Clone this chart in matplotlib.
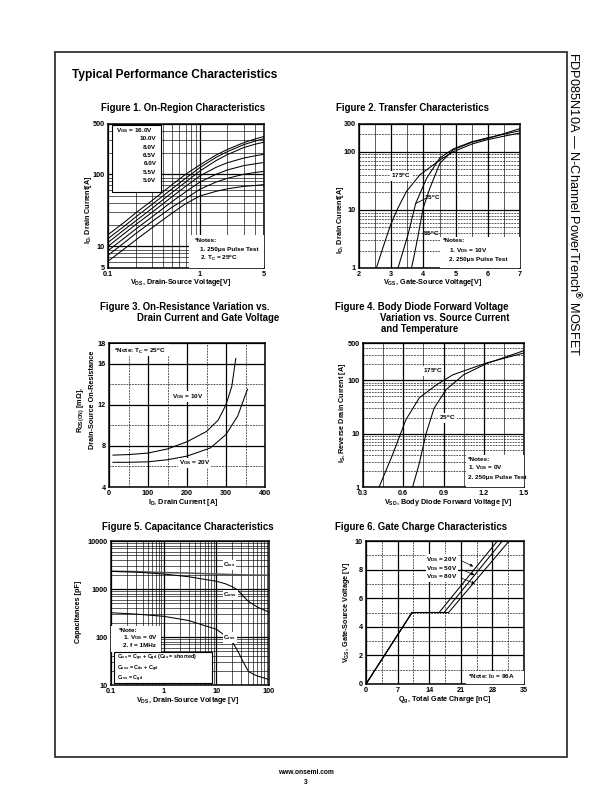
import matplotlib
matplotlib.use("Agg")
import matplotlib.pyplot as plt
from matplotlib.patches import Rectangle
from matplotlib.ticker import LogLocator, NullFormatter, FixedLocator

plt.rcParams['font.family'] = ['Liberation Sans', 'DejaVu Sans']
plt.rcParams['font.weight'] = 'bold'
plt.rcParams['mathtext.fontset'] = 'custom'
plt.rcParams['mathtext.rm'] = 'Liberation Sans:bold'
plt.rcParams['mathtext.it'] = 'Liberation Sans:bold'
plt.rcParams['mathtext.bf'] = 'Liberation Sans:bold'
plt.rcParams['axes.unicode_minus'] = False

# ---- Figure 1: on-region characteristics (VDS vs ID per VGS)
vds_f1 = [0.1, 0.15, 0.2, 0.3, 0.5, 0.7, 1.0, 1.5, 2.0, 3.0, 4.0, 5.0]
vgs_labels_f1 = ["16.0V", "10.0V", "8.0V", "6.5V", "6.0V", "5.5V", "5.0V"]
id_16v = [14.5, 21.5, 29, 43, 72, 100, 135, 185, 222, 275, 310, 335]
id_10v = [12.8, 19, 25.5, 38, 63, 88, 124, 172, 207, 258, 290, 312]
id_8v = [11.3, 17, 22.5, 33.5, 56, 78, 111, 155, 188, 235, 262, 280]
id_6v5 = [10, 15, 20, 29.5, 49, 68, 95, 125, 145, 168, 181, 190]
id_6v = [8.7, 13, 17.3, 25.5, 42, 57, 78, 100, 115, 132, 140, 146]
id_5v5 = [7.5, 11.2, 15, 22, 35, 46, 62, 78, 88, 100, 106, 110]
id_5v = [6.2, 9.2, 12.2, 18, 29, 39, 50, 58, 63, 68, 70, 72]

# ---- Figure 2: transfer characteristics
vgs_175 = [2.54, 2.75, 2.98, 3.2, 3.47, 3.89, 4.51, 4.93, 5.5, 5.96, 6.5, 7.0]
id_175 = [1, 2.3, 5.5, 10.5, 20.6, 40, 72, 100, 135, 160, 185, 210]
vgs_25 = [3.21, 3.35, 3.52, 3.76, 4.10, 4.51, 4.93, 5.5, 5.96, 6.5, 7.0]
id_25 = [1, 1.8, 3.7, 12.9, 35, 78, 112, 148, 172, 200, 230]
vgs_m55 = [3.63, 3.72, 3.84, 3.99, 4.20, 4.51, 4.93, 5.5, 5.96, 6.5, 7.0]
id_m55 = [1, 1.7, 3.7, 10.6, 23.5, 63, 108, 145, 167, 205, 250]

# ---- Figure 3: on-resistance vs drain current
id_f3_10v = [10, 50, 100, 150, 200, 250, 280, 300, 315, 325]
rds_10v = [7.1, 7.15, 7.3, 7.7, 8.4, 9.4, 10.5, 12.0, 13.8, 16.5]
id_f3_20v = [10, 50, 100, 150, 200, 260, 300, 330, 355]
rds_20v = [6.4, 6.4, 6.45, 6.65, 7.0, 7.8, 9.1, 10.9, 13.5]

# ---- Figure 4: body diode forward voltage
vsd_175 = [0.42, 0.47, 0.52, 0.62, 0.72, 0.85, 0.97, 1.22, 1.5]
is_175 = [1, 2.0, 4.0, 18.3, 47, 83, 127, 211, 325]
vsd_25 = [0.67, 0.72, 0.77, 0.83, 0.92, 1.05, 1.22, 1.5]
is_25 = [1, 2.8, 10, 30, 67, 127, 205, 360]

# ---- Figure 5: capacitance
vds_f5 = [0.1, 0.3, 1, 3, 10, 15, 20, 25, 30, 40, 60, 100]
c_iss = [2350, 2300, 2200, 2150, 2050, 2020, 2000, 1990, 1980, 1960, 1950, 1940]
c_oss = [2330, 2250, 2050, 1800, 1450, 1280, 1120, 960, 780, 560, 420, 330]
vds_rss = [0.1, 0.3, 1, 3, 10, 16, 21, 26, 32, 41, 58, 100]
c_rss = [320, 300, 270, 220, 145, 100, 74, 49, 31, 19, 15.6, 13]

# ---- Figure 6: gate charge
qg_20v = [0, 10.2, 16.2, 29.1]
qg_50v = [0, 10.2, 17.3, 30.2]
qg_80v = [0, 10.2, 18.3, 31.7]
vgs_f6 = [0, 5, 5, 10]

W, H = 612, 792
fig = plt.figure(figsize=(W / 100, H / 100), dpi=100)


def place(l, t, r, b):
    return fig.add_axes([l / W, 1 - b / H, (r - l) / W, (b - t) / H])


def ftext(x, y, s, **kw):
    kw.setdefault('fontsize', 5.2)
    kw.setdefault('ha', 'center')
    kw.setdefault('va', 'center')
    fig.text(x / W, 1 - y / H, s, **kw)


def base(ax):
    for sp in ax.spines.values():
        sp.set_linewidth(1.1)
    ax.tick_params(which='both', length=0, labelsize=5.2, pad=2.5)
    ax.set_axisbelow(True)


def log_grid(ax, axis):
    a = ax.xaxis if axis == 'x' else ax.yaxis
    a.set_minor_locator(LogLocator(base=10, subs=range(2, 10)))
    a.set_minor_formatter(NullFormatter())


def white(ax, x, y, w, h, edge='none', tr=None):
    ax.add_patch(Rectangle((x, y), w, h, transform=tr or ax.transAxes,
                           facecolor='white', edgecolor=edge, lw=0.8, zorder=3))


LW = 0.75

# page frame, header and footer
fig.add_artist(Rectangle((55 / W, 1 - 757 / H), 512 / W, 705 / H,
                         transform=fig.transFigure, fill=False, lw=1.2, color='#222222'))
ftext(72, 75, "Typical Performance Characteristics", fontsize=8.6, ha='left')
ftext(574, 52, r"FDP085N10A — N-Channel PowerTrench$^{\circledR}$ MOSFET",
      fontsize=9.2, fontweight='normal', rotation=-90, ha='center', va='top')
ftext(306, 773, "www.onsemi.com", fontsize=4.8)
ftext(306, 782, "3", fontsize=4.8)

TS = 6.9

# ================= Figure 1
ax = place(108, 124, 264, 268)
base(ax)
ax.set_xscale('log'); ax.set_yscale('log')
ax.set_xlim(0.1, 5); ax.set_ylim(5, 500)
log_grid(ax, 'x'); log_grid(ax, 'y')
ax.grid(which='major', color='k', lw=0.9)
ax.grid(which='minor', color='k', lw=0.45)
ax.xaxis.set_major_locator(FixedLocator([0.1, 1, 5]))
ax.yaxis.set_major_locator(FixedLocator([5, 10, 100, 500]))
ax.set_xticklabels(["0.1", "1", "5"]); ax.set_yticklabels(["5", "10", "100", "500"])
for ys in [id_16v, id_10v, id_8v, id_6v5, id_6v, id_5v5, id_5v]:
    ax.plot(vds_f1, ys, color='k', lw=LW, zorder=2)
white(ax, 0.024, 0.53, 0.316, 0.463, edge='k')
ax.text(0.05, 0.954, r"V$_{\rm GS}$ = " + vgs_labels_f1[0], transform=ax.transAxes,
        fontsize=4.6, va='center', zorder=4)
for i, lab in enumerate(vgs_labels_f1[1:]):
    ax.text(0.31, 0.896 - i * 0.0575, lab, transform=ax.transAxes, fontsize=4.6,
            ha='right', va='center', zorder=4)
white(ax, 0.52, 0.0, 0.48, 0.23)
ax.text(0.56, 0.19, "*Notes:", transform=ax.transAxes, fontsize=4.6, va='center', zorder=4)
ax.text(0.59, 0.125, "1. 250μs Pulse Test", transform=ax.transAxes, fontsize=4.6, va='center', zorder=4)
ax.text(0.59, 0.065, r"2. T$_{\rm C}$ = 25$^{\rm o}$C", transform=ax.transAxes, fontsize=4.6,
        va='center', zorder=4)
ftext(183, 108, "Figure 1. On-Region Characteristics", fontsize=TS)
ftext(181, 283, r"V$_{\rm DS}$, Drain-Source Voltage[V]")
ftext(89, 210, r"I$_{\rm D}$, Drain Current[A]", rotation=90)

# ================= Figure 2
ax = place(359, 124, 520, 268)
base(ax)
ax.set_yscale('log')
ax.set_xlim(2, 7); ax.set_ylim(1, 300)
log_grid(ax, 'y')
ax.set_xticks([2, 3, 4, 5, 6, 7])
ax.set_xticks([2.5, 3.5, 4.5, 5.5, 6.5], minor=True)
ax.yaxis.set_major_locator(FixedLocator([1, 10, 100, 300]))
ax.set_yticklabels(["1", "10", "100", "300"])
ax.grid(which='major', color='k', lw=0.9)
ax.grid(which='minor', axis='y', color='k', lw=0.45, ls=(0, (3, 1.5)))
ax.grid(which='minor', axis='x', color='k', lw=0.45)
for xs, ys in [(vgs_175, id_175), (vgs_25, id_25), (vgs_m55, id_m55)]:
    ax.plot(xs, ys, color='k', lw=LW, zorder=2)
bb = dict(facecolor='white', edgecolor='none', pad=0.6)
ax.text(3.3, 38, r"175$^{\rm o}$C", fontsize=4.6, ha='center', va='center', bbox=bb, zorder=4)
ax.plot([3.78, 4.05], [13, 15.5], color='k', lw=0.6, zorder=4)
ax.text(4.27, 15.8, r"25$^{\rm o}$C", fontsize=4.6, ha='center', va='center', zorder=4)
ax.text(4.2, 3.9, r"-55$^{\rm o}$C", fontsize=4.6, ha='center', va='center', zorder=4)
white(ax, 4.5, 1, 2.5, 2.43, tr=ax.transData)
ax.text(4.62, 2.93, "*Notes:", fontsize=4.6, va='center', zorder=4)
ax.text(4.78, 2.0, r"1. V$_{\rm DS}$ = 10V", fontsize=4.6, va='center', zorder=4)
ax.text(4.78, 1.4, "2. 250μs Pulse Test", fontsize=4.6, va='center', zorder=4)
ftext(336, 108, "Figure 2. Transfer Characteristics", fontsize=TS, ha='left')
ftext(433, 283, r"V$_{\rm GS}$, Gate-Source Voltage[V]")
ftext(340, 220, r"I$_{\rm D}$, Drain Current[A]", rotation=90)

# ================= Figure 3
ax = place(109, 343, 265, 487)
base(ax)
ax.set_xlim(0, 400); ax.set_ylim(4, 18)
ax.set_xticks([0, 100, 200, 300, 400]); ax.set_xticks([50, 150, 250, 350], minor=True)
ax.set_yticks([4, 8, 12, 16, 18]); ax.set_yticks([6, 10, 14], minor=True)
ax.grid(which='major', color='k', lw=0.9)
ax.grid(which='minor', color='k', lw=0.45, ls=(0, (3, 1.5)))
ax.plot(id_f3_10v, rds_10v, color='k', lw=LW, zorder=2)
ax.plot(id_f3_20v, rds_20v, color='k', lw=LW, zorder=2)
white(ax, 5, 16.7, 150, 1.2, tr=ax.transData)
ax.text(14, 17.2, r"*Note: T$_{\rm C}$ = 25$^{\rm o}$C", fontsize=4.6, va='center', zorder=4)
ax.text(203, 12.8, r"V$_{\rm GS}$ = 10V", fontsize=4.6, ha='center', va='center', bbox=bb, zorder=4)
ax.text(220, 6.35, r"V$_{\rm GS}$ = 20V", fontsize=4.6, ha='center', va='center', bbox=bb, zorder=4)
ftext(100, 307, "Figure 3. On-Resistance Variation vs.", fontsize=TS, ha='left')
ftext(137, 318, "Drain Current and Gate Voltage", fontsize=TS, ha='left')
ftext(183, 502, r"I$_{\rm D}$, Drain Current [A]")
ftext(81, 410, r"R$_{\rm DS(ON)}$ [m$\Omega$],", rotation=90)
ftext(92, 400, "Drain-Source On-Resistance", rotation=90)

# ================= Figure 4
ax = place(363, 343, 524, 487)
base(ax)
ax.set_yscale('log')
ax.set_xlim(0.3, 1.5); ax.set_ylim(1, 500)
log_grid(ax, 'y')
ax.set_xticks([0.3, 0.6, 0.9, 1.2, 1.5]); ax.set_xticks([0.45, 0.75, 1.05, 1.35], minor=True)
ax.yaxis.set_major_locator(FixedLocator([1, 10, 100, 500]))
ax.set_yticklabels(["1", "10", "100", "500"])
ax.grid(which='major', color='k', lw=0.9)
ax.grid(which='minor', axis='y', color='k', lw=0.45, ls=(0, (3, 1.5)))
ax.grid(which='minor', axis='x', color='k', lw=0.45)
ax.plot(vsd_175, is_175, color='k', lw=LW, zorder=2)
ax.plot(vsd_25, is_25, color='k', lw=LW, zorder=2)
ax.text(0.82, 152, r"175$^{\rm o}$C", fontsize=4.6, ha='center', va='center', bbox=bb, zorder=4)
ax.text(0.93, 20, r"25$^{\rm o}$C", fontsize=4.6, ha='center', va='center', bbox=bb, zorder=4)
white(ax, 1.07, 1, 0.43, 3.0, tr=ax.transData)
ax.text(1.085, 3.26, "*Notes:", fontsize=4.6, va='center', zorder=4)
ax.text(1.085, 2.27, r"1. V$_{\rm GS}$ = 0V", fontsize=4.6, va='center', zorder=4)
ax.text(1.085, 1.52, "2. 250μs Pulse Test", fontsize=4.6, va='center', zorder=4)
ftext(335, 307, "Figure 4. Body Diode Forward Voltage", fontsize=TS, ha='left')
ftext(380, 318, "Variation vs. Source Current", fontsize=TS, ha='left')
ftext(381, 329, "and Temperature", fontsize=TS, ha='left')
ftext(448, 502, r"V$_{\rm SD}$, Body Diode Forward Voltage [V]")
ftext(343, 413, r"I$_{\rm S}$, Reverse Drain Current [A]", rotation=90)

# ================= Figure 5
ax = place(111, 541, 269, 685)
base(ax)
ax.set_xscale('log'); ax.set_yscale('log')
ax.set_xlim(0.1, 100); ax.set_ylim(10, 10000)
log_grid(ax, 'x'); log_grid(ax, 'y')
ax.xaxis.set_major_locator(FixedLocator([0.1, 1, 10, 100]))
ax.yaxis.set_major_locator(FixedLocator([10, 100, 1000, 10000]))
ax.set_xticklabels(["0.1", "1", "10", "100"]); ax.set_yticklabels(["10", "100", "1000", "10000"])
ax.grid(which='major', color='k', lw=0.9)
ax.grid(which='minor', color='k', lw=0.45)
ax.plot(vds_f5, c_iss, color='#555555', lw=1.1, zorder=2)
ax.plot(vds_f5, c_oss, color='k', lw=LW, zorder=2)
ax.plot(vds_rss, c_rss, color='k', lw=LW, zorder=2)
ax.text(13.6, 3160, r"C$_{\rm iss}$", fontsize=4.4, va='center', bbox=bb, zorder=4)
ax.text(13.6, 750, r"C$_{\rm oss}$", fontsize=4.4, va='center', bbox=bb, zorder=4)
ax.text(13.6, 97, r"C$_{\rm rss}$", fontsize=4.4, va='center', bbox=bb, zorder=4)
white(ax, 0.1, 48, 0.8, 120, tr=ax.transData)
ax.text(0.14, 135, "*Note:", fontsize=4.6, va='center', zorder=4)
ax.text(0.17, 96, r"1. V$_{\rm GS}$ = 0V", fontsize=4.6, va='center', zorder=4)
ax.text(0.17, 67, "2. f = 1MHz", fontsize=4.6, va='center', zorder=4)
white(ax, 0.112, 11.0, 8.1, 37.0, edge='k', tr=ax.transData)
ax.text(0.13, 37, r"C$_{\rm iss}$ = C$_{\rm gs}$ + C$_{\rm gd}$ (C$_{\rm ds}$ = shorted)",
        fontsize=3.9, va='center', zorder=4)
ax.text(0.13, 22, r"C$_{\rm oss}$ = C$_{\rm ds}$ + C$_{\rm gd}$", fontsize=3.9, va='center', zorder=4)
ax.text(0.13, 13.3, r"C$_{\rm rss}$ = C$_{\rm gd}$", fontsize=3.9, va='center', zorder=4)
ftext(188, 527, "Figure 5. Capacitance Characteristics", fontsize=TS)
ftext(188, 701, r"V$_{\rm DS}$, Drain-Source Voltage [V]")
ftext(78, 612, "Capacitances [pF]", rotation=90)

# ================= Figure 6
ax = place(366, 541, 524, 684)
base(ax)
ax.set_xlim(0, 35); ax.set_ylim(0, 10)
ax.set_xticks([0, 7, 14, 21, 28, 35]); ax.set_xticks([3.5, 10.5, 17.5, 24.5, 31.5], minor=True)
ax.set_yticks([0, 2, 4, 6, 8, 10]); ax.set_yticks([1, 3, 5, 7, 9], minor=True)
ax.grid(which='major', color='k', lw=0.9)
ax.grid(which='minor', color='k', lw=0.45, ls=(0, (3, 1.5)))
for qs in [qg_20v, qg_50v, qg_80v]:
    ax.plot(qs, vgs_f6, color='k', lw=LW, zorder=2)
for lab, y, tip in [("20V", 8.72, (24.3, 8.14)), ("50V", 8.09, (24.6, 7.55)), ("80V", 7.49, (24.7, 6.95))]:
    ax.text(20.3, y, r"V$_{\rm DS}$ = " + lab, fontsize=4.6, ha='right', va='center', bbox=bb, zorder=4)
    ax.annotate("", xy=tip, xytext=(20.5, y), zorder=4,
                arrowprops=dict(arrowstyle='-|>', lw=0.5, color='k', mutation_scale=4))
white(ax, 22.1, 0, 12.9, 0.93, tr=ax.transData)
ax.text(22.5, 0.55, r"*Note: I$_{\rm D}$ = 96A", fontsize=4.6, va='center', zorder=4)
ftext(335, 527, "Figure 6. Gate Charge Characteristics", fontsize=TS, ha='left')
ftext(445, 700, r"Q$_{\rm g}$, Total Gate Charge [nC]")
ftext(347, 612, r"V$_{\rm GS}$, Gate-Source Voltage [V]", rotation=90)

fig.savefig("out.png", dpi=100)
